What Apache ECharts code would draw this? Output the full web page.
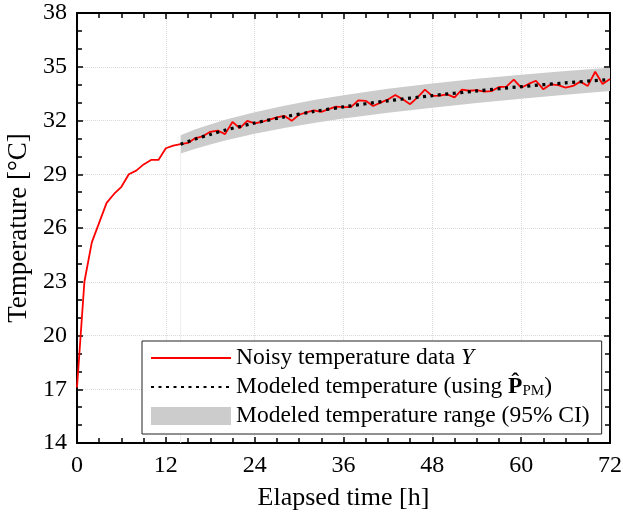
<!DOCTYPE html>
<html>
<head>
<meta charset="utf-8">
<script src="https://cdn.jsdelivr.net/npm/echarts@6/dist/echarts.min.js"></script>
<style>
html,body{margin:0;padding:0;background:#fff;}
#chart{width:623px;height:515px;}
</style>
</head>
<body>
<div id="chart"></div>
<script>
// ---- data ----
var noisyTime = [0,1,2,3,4,5,6,7,8,9,10,11,12,13,14,15,16,17,18,19,20,21,22,23,24,25,26,27,28,29,30,31,32,33,34,35,36,37,38,39,40,41,42,43,44,45,46,47,48,49,50,51,52,53,54,55,56,57,58,59,60,61,62,63,64,65,66,67,68,69,70,71,72];
var noisyTemp = [17.1,23.0,25.2,26.3,27.4,27.9,28.3,29.0,29.2,29.55,29.8,29.8,30.45,30.6,
  30.68,30.75,31.02,31.12,31.37,31.44,31.24,31.92,31.57,31.98,31.84,31.93,32.05,32.18,32.26,31.98,
  32.32,32.46,32.56,32.48,32.63,32.77,32.75,32.75,33.12,33.10,32.81,33.0,33.17,33.42,33.18,32.91,
  33.29,33.72,33.37,33.39,33.46,33.29,33.72,33.66,33.70,33.61,33.64,33.87,33.89,34.28,33.83,34.04,
  34.22,33.74,34.02,33.98,33.84,33.93,34.17,33.93,34.72,34.04,34.32];
var modelTime = [14,16,18,20,24,28,32,36,42,48,54,60,66,72];
var modelTemp = [30.67,30.97,31.22,31.46,31.86,32.20,32.50,32.76,33.10,33.39,33.65,33.89,34.10,34.29];
var ciLower   = [30.16,30.43,30.66,30.88,31.26,31.58,31.86,32.11,32.43,32.71,32.97,33.22,33.44,33.64];
var ciUpper   = [31.18,31.51,31.78,32.04,32.46,32.82,33.14,33.41,33.77,34.07,34.33,34.56,34.76,34.94];
var xTicks = {min:0, max:72, step:12};
var yTicks = {min:14, max:38, step:3};
var seriesNames = ['Noisy temperature data Y','Modeled temperature (using P_PM)','Modeled temperature range (95% CI)'];

// ---- chart ----
var FONT = '"Liberation Serif", "DejaVu Serif", serif';
function pairs(xs, ys){ return xs.map(function(x,i){ return [x, ys[i]]; }); }

var chart = echarts.init(document.getElementById('chart'), null, {renderer:'canvas'});

function makeX(pos, show){
  return {
    type:'value', position:pos, min:xTicks.min, max:xTicks.max, interval:xTicks.step,
    axisLine:{show:true, onZero:false, lineStyle:{color:'#000', width:2}},
    axisTick:{show:true, inside:true, length:6, lineStyle:{color:'#000', width:1.5}},
    minorTick:{show:true, splitNumber:4, length:5, lineStyle:{color:'#000', width:1.5}},
    splitLine:{show:show, lineStyle:{color:'#d9d9d9', type:'dotted', width:1}},
    axisLabel:{show:show, color:'#000', fontFamily:FONT, fontSize:24, margin:11},
    name: show ? 'Elapsed time [h]' : '', nameLocation:'middle', nameGap:42,
    nameTextStyle:{color:'#000', fontFamily:FONT, fontSize:26}
  };
}
function makeY(pos, show){
  return {
    type:'value', position:pos, min:yTicks.min, max:yTicks.max, interval:yTicks.step,
    axisLine:{show:true, onZero:false, lineStyle:{color:'#000', width:2}},
    axisTick:{show:true, inside:true, length:6, lineStyle:{color:'#000', width:1.5}},
    minorTick:{show:true, splitNumber:3, length:5, lineStyle:{color:'#000', width:1.5}},
    splitLine:{show:show, lineStyle:{color:'#d9d9d9', type:'dotted', width:1}},
    axisLabel:{show:show, color:'#000', fontFamily:FONT, fontSize:24, margin:10},
    name: show ? 'Temperature [°C]' : '', nameLocation:'middle', nameGap:45,
    nameTextStyle:{color:'#000', fontFamily:FONT, fontSize:27}
  };
}

var option = {
  animation:false,
  backgroundColor:'#fff',
  grid:{left:77, right:13, top:13, bottom:72, containLabel:false, outerBoundsMode:'none'},
  xAxis:[makeX('bottom', true), makeX('top', false)],
  yAxis:[makeY('left', true), makeY('right', false)],
  legend:{
    orient:'vertical', left:142, top:341,
    backgroundColor:'#fff', borderColor:'#222', borderWidth:1,
    padding:[5,12,6,8],
    itemWidth:80, itemHeight:18, itemGap:5,
    selectedMode:false,
    data:[
      {name:seriesNames[0], itemStyle:{opacity:0}},
      {name:seriesNames[1], itemStyle:{opacity:0}},
      {name:seriesNames[2], icon:'rect', itemStyle:{color:'#cccccc'}}
    ],
    formatter:function(name){
      if(name===seriesNames[0]) return 'Noisy temperature data {i|Y}';
      if(name===seriesNames[1]) return 'Modeled temperature (using {b|P\u0302}{s|PM})';
      return name;
    },
    textStyle:{
      color:'#000', fontFamily:FONT, fontSize:23.5, lineHeight:23,
      rich:{
        i:{fontFamily:FONT, fontSize:23.5, fontStyle:'italic', color:'#000', lineHeight:23},
        b:{fontFamily:FONT, fontSize:23.5, fontWeight:'bold', color:'#000', lineHeight:23},
        s:{fontFamily:FONT, fontSize:15, color:'#000', lineHeight:23, verticalAlign:'bottom', padding:[7,0,0,0]}
      }
    }
  },
  series:[
    {
      name:seriesNames[2], type:'custom', xAxisIndex:0, yAxisIndex:0, z:1,
      itemStyle:{color:'#cccccc'},
      data:[[modelTime[0], modelTemp[0]]],
      renderItem:function(params, api){
        var pts = [];
        for(var i=0;i<modelTime.length;i++) pts.push(api.coord([modelTime[i], ciUpper[i]]));
        for(var j=modelTime.length-1;j>=0;j--) pts.push(api.coord([modelTime[j], ciLower[j]]));
        var top = api.coord([modelTime[0], ciLower[0]]);
        var bot = api.coord([modelTime[0], yTicks.min]);
        return {type:'group', children:[
          {type:'line', shape:{x1:top[0], y1:top[1], x2:bot[0], y2:bot[1]}, style:{stroke:'#eeeeee', lineWidth:1}},
          {type:'polygon', shape:{points:pts}, style:{fill:'#cccccc'}}
        ]};
      }
    },
    {
      name:seriesNames[0], type:'line', xAxisIndex:0, yAxisIndex:0, z:3,
      data:pairs(noisyTime, noisyTemp), symbol:'none', showSymbol:false,
      itemStyle:{color:'#ff0000'},
      lineStyle:{color:'#ff0000', width:1.8}
    },
    {
      name:seriesNames[1], type:'line', xAxisIndex:0, yAxisIndex:0, z:4,
      data:pairs(modelTime, modelTemp), symbol:'none', showSymbol:false, smooth:0.3,
      itemStyle:{color:'#000'},
      lineStyle:{color:'#000', width:3.2, type:[3,4.5], cap:'butt'}
    }
  ]
};
chart.setOption(option);
</script>
</body>
</html>
